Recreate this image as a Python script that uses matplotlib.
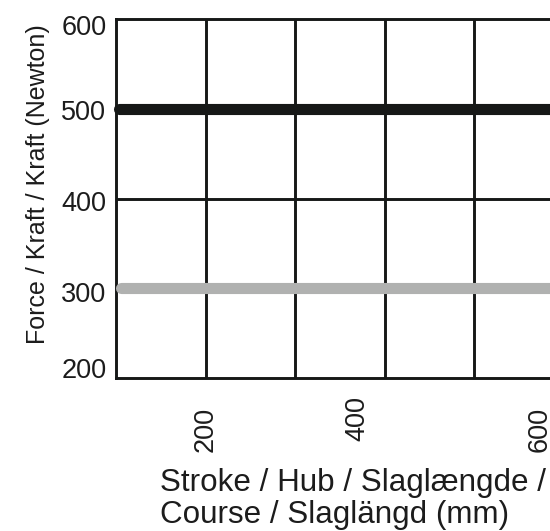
import numpy as np
import matplotlib.pyplot as plt
import matplotlib.transforms as mtransforms

plt.rcParams['font.family'] = ['Liberation Sans', 'DejaVu Sans']

# stroke (mm) and force (N)
stroke_black = [103, 600]
force_black = [500, 500]
stroke_grey = [106, 600]
force_grey = [300, 300]

grid_x = [200, 300, 400, 500]
xtick_pos = [200, 369, 573]
xtick_labels = ['200', '400', '600']
ytick_pos = [200, 300, 400, 500, 600]
ytick_labels = ['200', '300', '400', '500', '600']

fig = plt.figure(figsize=(5.5, 5.31), dpi=100)
W, H = 550.0, 531.0
ax = fig.add_axes([116 / W, (H - 378) / H, 448 / W, 359 / H])

ax.set_xlim(100, 600)
ax.set_ylim(200, 600)

# grid
for gx in grid_x:
    ax.axvline(gx, color='#161817', lw=2.1, zorder=1)
for gy in ytick_pos[1:-1]:
    ax.axhline(gy, color='#161817', lw=2.1, zorder=1)

ax.plot(stroke_grey, force_grey, color='#b0b1b0', lw=8, solid_capstyle='round', zorder=3)
ax.plot(stroke_black, force_black, color='#161817', lw=8, solid_capstyle='round', zorder=4, clip_on=False)

for s in ax.spines.values():
    s.set_linewidth(2.1)
    s.set_color('#161817')
ax.spines['right'].set_visible(False)

ax.set_yticks(ytick_pos, ytick_labels, fontsize=19.5, color='#1c1c1c')
ax.set_xticks(xtick_pos, xtick_labels, fontsize=19.5, rotation=90, color='#1c1c1c')
ax.tick_params(axis='both', length=0)
ax.tick_params(axis='y', pad=7)
ax.tick_params(axis='x', pad=21)

# per-label nudges (points)
y_off = {'200': 7, '300': -3, '400': -2, '500': -1, '600': -4}
for lab in ax.get_yticklabels():
    dy = y_off.get(lab.get_text(), 0)
    lab.set_transform(lab.get_transform() + mtransforms.ScaledTranslation(0, dy / 72, fig.dpi_scale_trans))
x_off = {'400': 8}
for lab in ax.get_xticklabels():
    dy = x_off.get(lab.get_text(), 0)
    lab.set_transform(lab.get_transform() + mtransforms.ScaledTranslation(0, dy / 72, fig.dpi_scale_trans))

fig.text(38 / W, 1 - 184 / H, 'Force / Kraft / Kraft (Newton)', rotation=90,
         ha='center', va='center', fontsize=18, color='#1c1c1c')
fig.text(160 / W, 1 / H, 'Stroke / Hub / Slaglængde /\nCourse / Slaglängd (mm)',
         ha='left', va='bottom', fontsize=22.6, linespacing=1.1, color='#1c1c1c')

fig.savefig('out.png', dpi=100)
